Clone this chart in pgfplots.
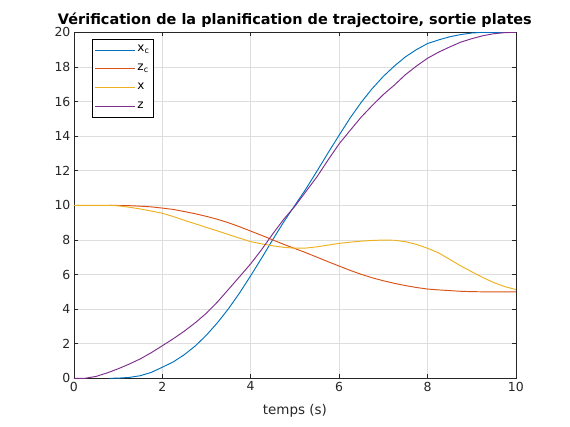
\documentclass[border=0pt]{standalone}
\usepackage{fontspec}
\setmainfont{DejaVu Sans}
\usepackage{pgfplots}
\pgfplotsset{compat=1.18}
\definecolor{mblue}{rgb}{0,0.447,0.741}
\definecolor{morange}{rgb}{0.85,0.325,0.098}
\definecolor{myellow}{rgb}{0.929,0.694,0.125}
\definecolor{mpurple}{rgb}{0.494,0.184,0.556}
\definecolor{axgray}{rgb}{0.15,0.15,0.15}
\definecolor{gridgray}{rgb}{0.87,0.87,0.87}

\begin{document}
\begin{tikzpicture}
\begin{axis}[
  scale only axis,
  width=442bp, height=346bp,
  xmin=0, xmax=10, ymin=0, ymax=20,
  xtick={0,2,...,10}, ytick={0,2,...,20},
  grid=major,
  grid style={color=gridgray, line width=0.5bp},
  axis line style={color=axgray, line width=0.6bp},
  tick style={color=axgray, line width=0.6bp},
  tick align=inside, major tick length=4bp,
  ticklabel style={font=\fontsize{12.5}{14}\selectfont, text=axgray},
  /pgf/number format/assume math mode=true,
  title={\bfseries Vérification de la planification de trajectoire, sortie plates},
  title style={font=\fontsize{14.5}{16}\selectfont, yshift=-5bp},
  xlabel={temps (s)},
  xlabel style={font=\fontsize{13.5}{15}\selectfont, text=axgray, yshift=-6bp},
  legend style={at={(0.0416,0.98)}, anchor=north west, draw=black,
    line width=0.5bp, font=\fontsize{12}{14}\selectfont, inner sep=2bp,
    row sep=2bp, nodes={text height=8.5bp, text depth=4.5bp}},
  legend cell align=left,
  legend image code/.code={\draw[#1] (0bp,0bp) -- (40bp,0bp);},
  every axis plot/.append style={line width=0.95bp},
]
% x_c
\addplot[mblue] coordinates {
  (0.8,0) (1.0,0.01) (1.25,0.05) (1.5,0.15) (1.75,0.34) (2.0,0.64)
  (2.25,0.95) (2.5,1.37) (2.75,1.88) (3.0,2.5) (3.25,3.22) (3.5,4.03)
  (3.75,4.94) (4.0,5.93) (4.25,6.96) (4.5,8.02) (4.75,9.05) (5.0,10.0)
  (5.25,10.95) (5.5,11.98) (5.75,13.03) (6.0,14.05) (6.25,15.05)
  (6.5,15.95) (6.75,16.75) (7.0,17.45) (7.25,18.05) (7.5,18.58)
  (7.75,19.0) (8.0,19.35) (8.25,19.56) (8.5,19.74) (8.75,19.87)
  (9.0,19.96) (9.25,20.0) (10.0,20.0)
};
\addlegendentry{x\textsubscript{c}}
% z_c
\addplot[morange] coordinates {
  (0.8,10) (1.0,9.99) (1.25,9.98) (1.5,9.95) (1.75,9.91) (2.0,9.84)
  (2.25,9.76) (2.5,9.64) (2.75,9.51) (3.0,9.36) (3.25,9.19) (3.5,8.99)
  (3.75,8.76) (4.0,8.51) (4.25,8.26) (4.5,8.0) (4.75,7.74) (5.0,7.5)
  (5.25,7.26) (5.5,7.0) (5.75,6.74) (6.0,6.49) (6.25,6.24) (6.5,6.01)
  (6.75,5.81) (7.0,5.64) (7.25,5.49) (7.5,5.36) (7.75,5.25) (8.0,5.16)
  (8.25,5.11) (8.5,5.07) (8.75,5.03) (9.0,5.01) (9.25,5.0) (10.0,5.0)
};
\addlegendentry{z\textsubscript{c}}
% x
\addplot[myellow] coordinates {
  (0,10) (0.8,10) (1.0,9.97) (1.25,9.89) (1.5,9.79) (1.75,9.67)
  (2.0,9.54) (2.25,9.35) (2.5,9.13) (2.75,8.93) (3.0,8.72) (3.25,8.52)
  (3.5,8.31) (3.75,8.1) (4.0,7.9) (4.25,7.77) (4.5,7.66) (4.75,7.57)
  (5.0,7.52) (5.25,7.53) (5.5,7.6) (5.75,7.7) (6.0,7.8) (6.25,7.87)
  (6.5,7.93) (6.75,7.97) (7.0,7.99) (7.25,7.98) (7.5,7.9) (7.75,7.74)
  (8.0,7.52) (8.25,7.25) (8.5,6.88) (8.75,6.5) (9.0,6.16) (9.25,5.83)
  (9.5,5.53) (9.75,5.3) (10.0,5.13)
};
\addlegendentry{x}
% z
\addplot[mpurple] coordinates {
  (0,0) (0.25,0.0) (0.5,0.11) (0.75,0.31) (1.0,0.55) (1.25,0.82)
  (1.5,1.12) (1.75,1.48) (2.0,1.88) (2.25,2.29) (2.5,2.73) (2.75,3.22)
  (3.0,3.77) (3.25,4.42) (3.5,5.15) (3.75,5.88) (4.0,6.62) (4.25,7.45)
  (4.5,8.35) (4.75,9.2) (5.0,9.95) (5.25,10.8) (5.5,11.65) (5.75,12.62)
  (6.0,13.55) (6.25,14.33) (6.5,15.1) (6.75,15.77) (7.0,16.4)
  (7.25,16.95) (7.5,17.55) (7.75,18.05) (8.0,18.5) (8.25,18.85)
  (8.5,19.15) (8.75,19.43) (9.0,19.63) (9.25,19.8) (9.5,19.92)
  (9.75,19.98) (10.0,20.0)
};
\addlegendentry{z}
\coordinate (bl) at (rel axis cs:-0.1672,-0.1379);
\coordinate (tr) at (rel axis cs:1.1224,1.0934);
\end{axis}
\pgfresetboundingbox
\path (bl) rectangle (tr);
\end{tikzpicture}
\end{document}
